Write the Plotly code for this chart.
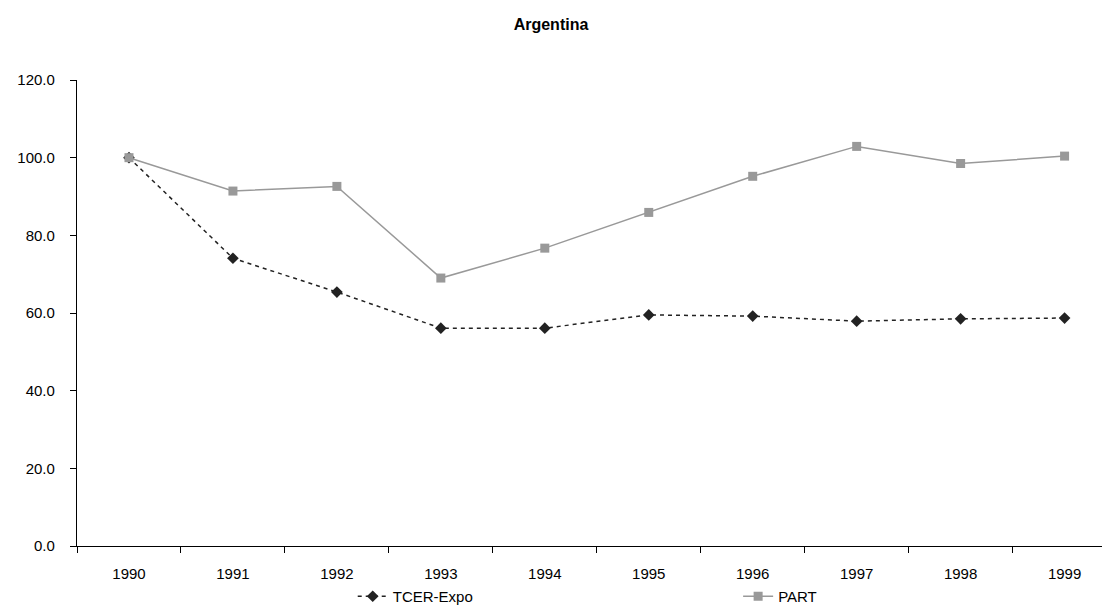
import plotly.graph_objects as go

years = ["1990", "1991", "1992", "1993", "1994", "1995", "1996", "1997", "1998", "1999"]
tcer_expo = [100.0, 74.1, 65.4, 56.1, 56.1, 59.5, 59.2, 57.9, 58.5, 58.7]
part = [100.0, 91.4, 92.6, 69.0, 76.7, 85.9, 95.2, 102.9, 98.5, 100.4]
y_ticks = [0, 20, 40, 60, 80, 100, 120]

FONT = "Liberation Sans, Arial, sans-serif"

fig = go.Figure()
fig.add_trace(go.Scatter(
    x=years, y=tcer_expo, name="TCER-Expo", mode="lines+markers",
    line=dict(color="#222222", width=1.5, dash="4px,4px"),
    marker=dict(symbol="diamond", size=9, color="#222222"),
    legend="legend",
))
fig.add_trace(go.Scatter(
    x=years, y=part, name="PART", mode="lines+markers",
    line=dict(color="#999999", width=1.5),
    marker=dict(symbol="square", size=9, color="#999999"),
    legend="legend2",
))

legend_style = dict(orientation="h", xanchor="left", y=-0.109, yanchor="middle",
                    font=dict(family=FONT, size=15, color="#000000"),
                    bgcolor="rgba(0,0,0,0)")

fig.update_layout(
    width=1102, height=613,
    margin=dict(l=77, r=0, t=80, b=66),
    paper_bgcolor="white", plot_bgcolor="white",
    font=dict(family=FONT, size=15, color="#000000"),
    title=dict(text="<b>Argentina</b>", x=0.5, xanchor="center", y=0.96, yanchor="middle",
               font=dict(family=FONT, size=16, color="#000000")),
    showlegend=True,
    legend=dict(x=0.269, **legend_style),
    legend2=dict(x=0.645, **legend_style),
)
fig.update_xaxes(
    type="category", range=[-0.5, 9.36], showgrid=False, zeroline=False,
    showline=True, linecolor="#000000", linewidth=1.2,
    ticks="outside", tickson="boundaries", ticklen=6, tickcolor="#000000",
    ticklabelstandoff=14, tickfont=dict(family=FONT, size=15),
)
fig.update_yaxes(
    range=[0, 120], tickvals=y_ticks, ticktext=[f"{v:.1f}" for v in y_ticks],
    showgrid=False, zeroline=False,
    showline=True, linecolor="#000000", linewidth=1.2,
    ticks="outside", ticklen=6, tickcolor="#000000",
    ticklabelstandoff=12, tickfont=dict(family=FONT, size=15),
)

fig.write_html("out.html")
